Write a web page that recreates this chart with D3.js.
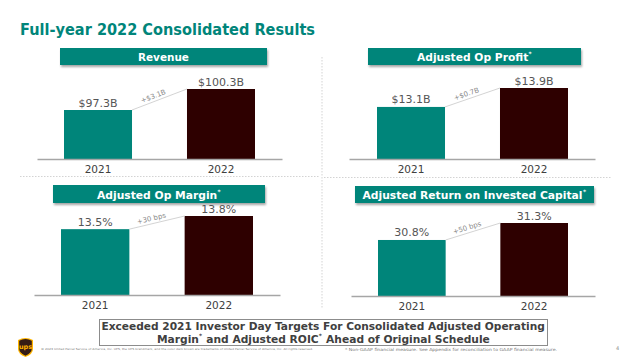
<!DOCTYPE html>
<html><head><meta charset="utf-8">
<script src="https://cdn.jsdelivr.net/npm/d3@7"></script>
<style>html,body{margin:0;padding:0;background:#fff;}svg{display:block;}</style>
</head><body>
<script>
// ---- data ----
const years = ["2021", "2022"];
const panelTitles = ["Revenue", "Adjusted Op Profit*", "Adjusted Op Margin*", "Adjusted Return on Invested Capital*"];
const revenue = [97.3, 100.3];
const opProfit = [13.1, 13.9];
const opMargin = [13.5, 13.8];
const roic = [30.8, 31.3];
const changeLabels = ["+$3.1B", "+$0.7B", "+30 bps", "+50 bps"];
const axisStart = [90.3, 10.9, 12.0, 29.15];
const valueFormats = [v => `$${v.toFixed(1)}B`, v => `$${v.toFixed(1)}B`, v => `${v.toFixed(1)}%`, v => `${v.toFixed(1)}%`];

const seriesList = [revenue, opProfit, opMargin, roic];

// ---- layout ----
const W = 640, H = 359;
const TEAL = "#00857a", DARK = "#2e0000";
const layout = [
  {bx: [64, 255], ax: [37, 282], base: 159, top: 89, hx: [60, 267], hy: [48, 65], tw: 51},
  {bx: [377, 568], ax: [349, 595], base: 159, top: 88, hx: [368, 581], hy: [48, 65], tw: 115},
  {bx: [61, 253], ax: [34, 280], base: 295, top: 216, hx: [53, 265], hy: [185, 203], tw: 124},
  {bx: [378, 568], ax: [351, 595], base: 296, top: 223, hx: [355, 594], hy: [186, 203], tw: 224}
];
const FONT = "'DejaVu Sans', Verdana, sans-serif";

const svg = d3.select("body").append("svg").attr("width", W).attr("height", H)
  .style("font-family", FONT);

const defs = svg.append("defs");
const f = defs.append("filter").attr("id", "sh").attr("x", "-5%").attr("y", "-30%").attr("width", "110%").attr("height", "180%");
f.append("feDropShadow").attr("dx", 1).attr("dy", 2).attr("stdDeviation", 1.2).attr("flood-color", "#000").attr("flood-opacity", 0.35);

// rich text: pieces with optional superscript, horizontally scaled to a target width, centred at cx
function richText(parent, str, cx, y, size, target, fill) {
  const parts = [];
  str.split("*").forEach((s, k, arr) => {
    if (s) parts.push({t: s, sup: false});
    if (k < arr.length - 1) parts.push({t: "*", sup: true});
  });
  const g = parent.append("g");
  let x = 0;
  parts.forEach(p => {
    const el = g.append("text").attr("x", x).attr("y", p.sup ? -size * 0.38 : 0)
      .attr("fill", fill).attr("font-weight", "bold")
      .attr("font-size", p.sup ? size * 0.55 : size).attr("xml:space", "preserve")
      .style("white-space", "pre").text(p.t);
    x += el.node().getComputedTextLength() + (p.sup ? 0.5 : 0);
  });
  const sx = target / x;
  g.attr("transform", `translate(${cx - target / 2},${y}) scale(${sx},1)`);
  return g;
}

// title
svg.append("text").attr("x", 20).attr("y", 35).attr("fill", TEAL)
  .attr("font-size", 16.5).attr("font-weight", "bold")
  .attr("textLength", 295).attr("lengthAdjust", "spacingAndGlyphs")
  .text("Full-year 2022 Consolidated Results");

// separators
svg.append("line").attr("x1", 322).attr("x2", 322).attr("y1", 57).attr("y2", 308)
  .attr("stroke", "#c8c8c8").attr("stroke-width", 0.8).attr("stroke-dasharray", "1.5,1.5");
svg.append("line").attr("x1", 20).attr("x2", 320).attr("y1", 176.5).attr("y2", 176.5)
  .attr("stroke", "#c8c8c8").attr("stroke-width", 0.8).attr("stroke-dasharray", "1.5,1.5");
svg.append("line").attr("x1", 324).attr("x2", 612).attr("y1", 177.5).attr("y2", 177.5)
  .attr("stroke", "#c8c8c8").attr("stroke-width", 0.8).attr("stroke-dasharray", "1.5,1.5");

seriesList.forEach((vals, i) => {
  const L = layout[i];
  const g = svg.append("g");
  const x = d3.scaleBand().domain(years).range(L.bx).paddingInner(0.447).paddingOuter(0);
  const y = d3.scaleLinear().domain([axisStart[i], d3.max(vals)]).range([L.base, L.top]);

  // header
  g.append("rect").attr("x", L.hx[0]).attr("y", L.hy[0]).attr("width", L.hx[1] - L.hx[0])
    .attr("height", L.hy[1] - L.hy[0]).attr("fill", TEAL).attr("filter", "url(#sh)");
  richText(g, panelTitles[i], (L.hx[0] + L.hx[1]) / 2, L.hy[1] - 4.5, 11, L.tw, "#fff");

  // bars
  g.selectAll("rect.bar").data(vals).join("rect").attr("class", "bar")
    .attr("x", (d, j) => x(years[j])).attr("width", x.bandwidth())
    .attr("y", d => y(d)).attr("height", d => L.base - y(d))
    .attr("fill", (d, j) => j === 0 ? TEAL : DARK);

  // axis
  const axis = d3.axisBottom(d3.scaleLinear().range(L.ax)).ticks(0).tickSize(0).tickFormat("");
  const ag = g.append("g").attr("transform", `translate(0,${L.base})`).call(axis);
  ag.select(".domain").attr("stroke", "#a6a6a6").attr("stroke-width", 1.5);

  // year labels
  g.selectAll("text.yr").data(years).join("text").attr("class", "yr")
    .attr("x", d => x(d) + x.bandwidth() / 2).attr("y", L.base + 14)
    .attr("text-anchor", "middle").attr("fill", "#404040").attr("font-size", 10.5).text(d => d);

  // value labels
  g.selectAll("text.val").data(vals).join("text").attr("class", "val")
    .attr("x", (d, j) => x(years[j]) + x.bandwidth() / 2).attr("y", d => y(d) - 3.5)
    .attr("text-anchor", "middle").attr("fill", "#555").attr("font-size", 11).text(d => valueFormats[i](d));

  // connector
  const x1 = x(years[0]) + x.bandwidth(), y1 = y(vals[0]);
  const x2 = x(years[1]), y2 = y(vals[1]);
  g.append("line").attr("x1", x1).attr("y1", y1).attr("x2", x2).attr("y2", y2)
    .attr("stroke", "#c8c8c8").attr("stroke-width", 0.8);
  const ang = Math.atan2(y2 - y1, x2 - x1);
  const tx = x1 + (x2 - x1) * 0.42, ty = y1 + (y2 - y1) * 0.42;
  g.append("text").attr("transform", `translate(${tx},${ty}) rotate(${ang * 180 / Math.PI}) translate(0,-3)`)
    .attr("text-anchor", "middle").attr("fill", "#8a8a8a").attr("font-size", 7).text(changeLabels[i]);
});

// bottom callout box
svg.append("rect").attr("x", 99.5).attr("y", 319.5).attr("width", 448).attr("height", 26)
  .attr("fill", "#fff").attr("stroke", "#8c8c8c").attr("stroke-width", 1);
richText(svg, "Exceeded 2021 Investor Day Targets For Consolidated Adjusted Operating", 323.5, 330, 11, 444, "#404040");
richText(svg, "Margin* and Adjusted ROIC* Ahead of Original Schedule", 323.5, 342.5, 11, 333, "#404040");

// UPS logo
const lg = svg.append("g").attr("transform", "translate(18,337)");
lg.append("path").attr("d", "M0,3 Q7.5,-1 15,3 L15,12 Q15,17 7.5,20 Q0,17 0,12 Z")
  .attr("fill", "#ffb500");
lg.append("path").attr("d", "M1.2,3.8 Q7.5,0.4 13.8,3.8 L13.8,11.8 Q13.8,16 7.5,18.7 Q1.2,16 1.2,11.8 Z")
  .attr("fill", "#351c15");
lg.append("text").attr("x", 7.5).attr("y", 12).attr("text-anchor", "middle").attr("fill", "#ffb500")
  .attr("font-size", 6.5).attr("font-weight", "bold").text("ups");

// copyright
svg.append("text").attr("x", 41).attr("y", 349.5).attr("fill", "#777").attr("font-size", 2.8)
  .attr("textLength", 272).attr("lengthAdjust", "spacingAndGlyphs")
  .text("© 2023 United Parcel Service of America, Inc. UPS, the UPS brandmark, and the color dark brown are trademarks of United Parcel Service of America, Inc. All rights reserved.");

// footnote
svg.append("text").attr("x", 345).attr("y", 351).attr("fill", "#777").attr("font-size", 4.2)
  .attr("textLength", 212).attr("lengthAdjust", "spacingAndGlyphs")
  .text("* Non-GAAP financial measure. See Appendix for reconciliation to GAAP financial measure.");

svg.append("text").attr("x", 616).attr("y", 350).attr("fill", "#888").attr("font-size", 5).text("4");
</script>
</body></html>
